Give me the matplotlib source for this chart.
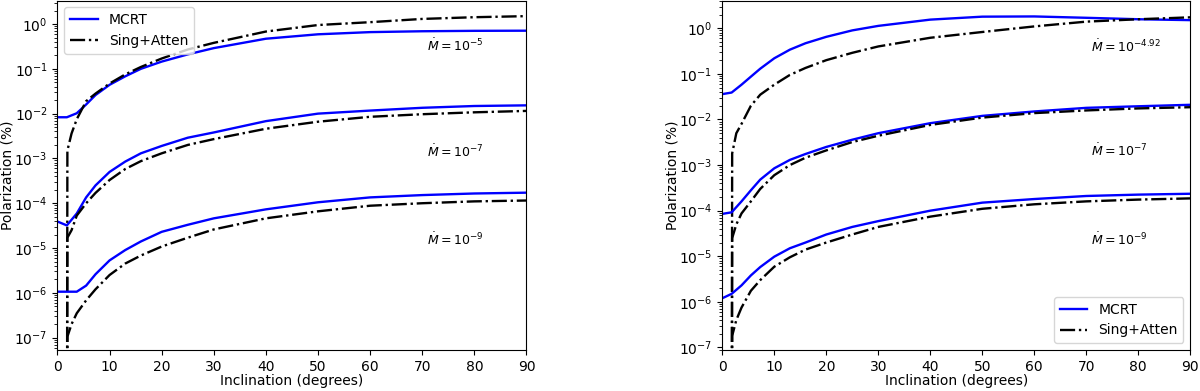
#!/usr/bin/env python3

# Polarization vs inclination: MCRT against the singular + attenuation model

import numpy as np
import matplotlib
matplotlib.use("Agg")
from matplotlib import pyplot as plt

# inclination grids (degrees)
inc_mcrt = [0, 1.8, 3.7, 5.5, 7.3, 10, 13, 16, 20, 25, 30, 40, 50, 60, 70, 80, 90]
inc_sa = [1.8, 1.9, 2.7, 3.7, 5.5, 7.3, 10, 13, 16, 20, 25, 30, 40, 50, 60, 70, 80, 90]

# left panel: Mdot = 1e-5, 1e-7, 1e-9
left_mcrt_5 = [8.3e-3, 8.3e-3, 1.02e-2, 1.6e-2, 2.6e-2, 4.4e-2, 6.8e-2, 0.10, 0.145,
               0.21, 0.29, 0.47, 0.59, 0.66, 0.69, 0.705, 0.71]
left_sa_5 = [1e-12, 1.5e-3, 3.6e-3, 7.5e-3, 1.9e-2, 2.8e-2, 4.7e-2, 7.5e-2, 0.11,
             0.17, 0.27, 0.38, 0.68, 0.95, 1.1, 1.3, 1.42, 1.5]
left_mcrt_7 = [3.9e-5, 3.2e-5, 5.9e-5, 1.35e-4, 2.5e-4, 5.0e-4, 8.5e-4, 1.3e-3, 1.9e-3,
               2.9e-3, 3.8e-3, 6.8e-3, 1.0e-2, 1.17e-2, 1.35e-2, 1.48e-2, 1.53e-2]
left_sa_7 = [1e-12, 1.7e-5, 2.5e-5, 5.3e-5, 1.0e-4, 1.7e-4, 3.3e-4, 5.8e-4, 8.7e-4,
             1.3e-3, 2.0e-3, 2.7e-3, 4.6e-3, 6.6e-3, 8.5e-3, 9.7e-3, 1.07e-2, 1.15e-2]
left_mcrt_9 = [1.06e-6, 1.06e-6, 1.06e-6, 1.45e-6, 2.6e-6, 5.3e-6, 9e-6, 1.4e-5, 2.3e-5,
               3.3e-5, 4.6e-5, 7.3e-5, 1.05e-4, 1.35e-4, 1.52e-4, 1.65e-4, 1.72e-4]
left_sa_9 = [1e-12, 1.05e-7, 2.0e-7, 3.5e-7, 6.8e-7, 1.2e-6, 2.5e-6, 4.5e-6, 6.8e-6,
             1.08e-5, 1.7e-5, 2.6e-5, 4.6e-5, 6.6e-5, 8.8e-5, 1.0e-4, 1.1e-4, 1.15e-4]

# right panel: Mdot = 10^-4.92, 1e-7, 1e-9
right_mcrt_5 = [3.6e-2, 3.9e-2, 5.8e-2, 8.7e-2, 0.13, 0.22, 0.34, 0.47, 0.65,
                0.9, 1.13, 1.55, 1.8, 1.82, 1.7, 1.58, 1.51]
right_sa_5 = [1e-12, 1.8e-3, 5.0e-3, 8.0e-3, 2.0e-2, 3.5e-2, 5.8e-2, 9.5e-2, 0.135,
              0.2, 0.29, 0.4, 0.62, 0.83, 1.1, 1.4, 1.58, 1.74]
right_mcrt_7 = [8.5e-5, 9.2e-5, 1.6e-4, 2.8e-4, 4.8e-4, 8.5e-4, 1.3e-3, 1.75e-3, 2.5e-3,
                3.6e-3, 5.0e-3, 8.3e-3, 1.2e-2, 1.5e-2, 1.8e-2, 1.95e-2, 2.1e-2]
right_sa_7 = [1e-12, 2.5e-5, 5.0e-5, 8.7e-5, 1.6e-4, 3.0e-4, 6.0e-4, 1.0e-3, 1.45e-3,
              2.1e-3, 3.2e-3, 4.4e-3, 7.6e-3, 1.1e-2, 1.38e-2, 1.58e-2, 1.75e-2, 1.86e-2]
right_mcrt_9 = [1.2e-6, 1.5e-6, 2.3e-6, 3.8e-6, 5.8e-6, 9.8e-6, 1.5e-5, 2.0e-5, 3.0e-5,
                4.4e-5, 5.9e-5, 1.0e-4, 1.5e-4, 1.8e-4, 2.1e-4, 2.25e-4, 2.35e-4]
right_sa_9 = [1e-12, 1.8e-7, 4.0e-7, 7.5e-7, 1.75e-6, 3.0e-6, 5.9e-6, 9.5e-6, 1.4e-5,
              2.0e-5, 3.0e-5, 4.4e-5, 7.4e-5, 1.1e-4, 1.38e-4, 1.6e-4, 1.75e-4, 1.86e-4]

left_labels = [r"$\dot{M} = 10^{-5}$", r"$\dot{M} = 10^{-7}$", r"$\dot{M} = 10^{-9}$"]
left_label_y = [0.33, 1.4e-3, 1.5e-5]
right_labels = [r"$\dot{M} = 10^{-4.92}$", r"$\dot{M} = 10^{-7}$", r"$\dot{M} = 10^{-9}$"]
right_label_y = [0.40, 2.1e-3, 2.3e-5]
label_x = 71

y_decades = [1e-7, 1e-6, 1e-5, 1e-4, 1e-3, 1e-2, 1e-1, 1e0]

fig = plt.figure(figsize=(12, 3.91), dpi=100)
ax1 = fig.add_axes([0.0479, 0.1049, 0.3908, 0.8938])
ax2 = fig.add_axes([0.6019, 0.1049, 0.3900, 0.8938])


def plot_panel(ax, mcrt, sa, labels, label_y, ylim, legend_loc):
    for i, (m, s) in enumerate(zip(mcrt, sa)):
        ax.plot(inc_mcrt, m, color="b", lw=1.7,
                label="MCRT" if i == 0 else None)
        ax.plot(inc_sa, s, "k-.", lw=1.7,
                label="Sing+Atten" if i == 0 else None)
    for lab, y in zip(labels, label_y):
        ax.text(label_x, y, lab, ha="left", va="center", fontsize=9)
    ax.set_yscale("log")
    ax.set_yticks(y_decades)
    ax.set_xlim(0, 90)
    ax.set_ylim(*ylim)
    ax.set_xlabel("Inclination (degrees)", labelpad=0)
    ax.set_ylabel("Polarization (%)", labelpad=0)
    ax.legend(loc=legend_loc)


plot_panel(ax1, [left_mcrt_5, left_mcrt_7, left_mcrt_9],
           [left_sa_5, left_sa_7, left_sa_9],
           left_labels, left_label_y, (5.3e-8, 3.35), "upper left")
plot_panel(ax2, [right_mcrt_5, right_mcrt_7, right_mcrt_9],
           [right_sa_5, right_sa_7, right_sa_9],
           right_labels, right_label_y, (8.8e-8, 4.07), "lower right")

plt.savefig("out.png", dpi=100)
